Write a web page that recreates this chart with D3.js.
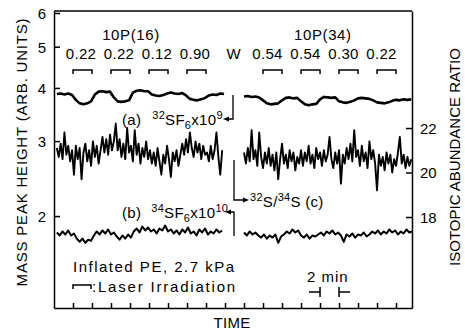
<!DOCTYPE html>
<html lang="en">
<head>
<meta charset="UTF-8">
<title>Mass peak height vs time</title>
<script src="https://d3js.org/d3.v7.min.js"></script>
<style>
  body { margin: 0; background: #fff; }
  svg { display: block; font-family: "Liberation Sans", Arial, sans-serif; }
  .axis path, .axis line { stroke: #000; stroke-width: 1.5; }
  .axis text { font-size: 15px; fill: #000; font-family: "Liberation Sans", Arial, sans-serif; }
  .trace { fill: none; stroke: #000; stroke-linejoin: round; }
  .lbl { font-size: 15px; fill: #000; }
</style>
</head>
<body>
<svg id="chart"></svg>
<script>
// each segment is sampled at a fixed step (minutes) from its start time
const leftStart = 0.3;
const rightStart = 20.0;

// (a) 32SF6 x 10^9, step 0.4 min
const sf32Left = [3.87, 3.88, 3.86, 3.88, 3.85, 3.75, 3.68, 3.66, 3.68, 3.72,
  3.86, 3.92, 3.93, 3.91, 3.92, 3.80, 3.72, 3.71, 3.72, 3.74,
  3.90, 3.94, 3.95, 3.93, 3.93, 3.86, 3.84, 3.83, 3.85, 3.88,
  3.90, 3.88, 3.87, 3.89, 3.84, 3.77, 3.75, 3.74, 3.76, 3.79,
  3.84, 3.86, 3.85, 3.88, 3.87];
const sf32Right = [3.82, 3.83, 3.81, 3.82, 3.80, 3.74, 3.68, 3.66, 3.67, 3.68,
  3.74, 3.79, 3.80, 3.78, 3.79, 3.72, 3.66, 3.64, 3.66, 3.67,
  3.76, 3.81, 3.80, 3.79, 3.80, 3.72, 3.70, 3.69, 3.71, 3.74,
  3.78, 3.79, 3.78, 3.77, 3.74, 3.70, 3.69, 3.68, 3.70, 3.73,
  3.75, 3.74, 3.76, 3.75, 3.76];

// (c) 32S/34S ratio, step 0.2 min
const ratioLeft = [21.1, 20.7, 21.3, 20.6, 21.8, 20.8, 21.2, 20.5, 21.0, 19.9,
  21.2, 20.6, 21.1, 19.7, 20.9, 21.3, 20.5, 21.0, 20.3, 21.4,
  20.7, 21.2, 20.4, 21.0, 21.6, 20.9, 21.5, 20.8, 21.7, 21.0,
  21.4, 22.2, 21.0, 21.5, 20.7, 21.3, 20.6, 22.0, 20.9, 21.2,
  20.5, 21.9, 20.8, 21.3, 20.4, 21.1, 20.7, 21.4, 20.6, 21.0,
  20.4, 20.9, 20.3, 21.1, 20.5, 19.9, 20.8, 20.4, 21.2, 20.6,
  19.8, 20.9, 20.5, 21.0, 20.3, 20.8, 21.3, 20.8, 21.5, 20.9,
  21.8, 21.1, 20.7, 21.4, 20.9, 21.3, 20.6, 21.2, 20.8, 20.9,
  20.5, 21.2, 20.6, 21.0, 21.8, 20.7, 19.9, 21.0];
const ratioRight = [20.9, 20.4, 21.1, 20.5, 21.9, 20.6, 21.0, 20.3, 21.8, 20.7,
  20.2, 20.9, 20.4, 21.1, 20.3, 20.8, 20.1, 20.9, 19.7, 20.6,
  21.3, 20.4, 20.8, 20.2, 21.0, 20.5, 20.9, 20.1, 20.7, 20.4,
  21.0, 20.3, 20.9, 20.5, 21.2, 20.4, 20.8, 20.2, 21.1, 20.6,
  20.9, 20.3, 21.0, 20.5, 20.8, 21.6, 20.6, 20.2, 20.9, 20.4,
  21.0, 19.5, 20.8, 20.4, 21.1, 20.6, 21.3, 20.5, 21.9, 20.7,
  21.0, 20.3, 21.2, 20.5, 20.9, 20.2, 21.4, 20.6, 21.0, 20.4,
  19.2, 20.8, 20.3, 20.7, 20.1, 20.9, 20.4, 20.8, 20.0, 20.6,
  20.3, 20.9, 21.6, 20.4, 20.8, 20.2, 20.7, 20.3, 20.6];

// (b) 34SF6 x 10^10, step 0.3 min
const sf34Left = [1.83, 1.80, 1.84, 1.81, 1.85, 1.80, 1.82, 1.77, 1.74, 1.77,
  1.73, 1.76, 1.75, 1.80, 1.84, 1.81, 1.85, 1.82, 1.86, 1.81,
  1.83, 1.79, 1.76, 1.80, 1.77, 1.81, 1.78, 1.84, 1.87, 1.83,
  1.89, 1.85, 1.88, 1.84, 1.86, 1.82, 1.87, 1.85, 1.90, 1.84,
  1.86, 1.82, 1.85, 1.81, 1.86, 1.83, 1.88, 1.82, 1.84, 1.80,
  1.86, 1.83, 1.87, 1.81, 1.84, 1.82, 1.86, 1.83, 1.85];
const sf34Right = [1.83, 1.80, 1.84, 1.81, 1.83, 1.80, 1.78, 1.81, 1.77, 1.80,
  1.78, 1.81, 1.73, 1.79, 1.81, 1.84, 1.82, 1.86, 1.83, 1.85,
  1.80, 1.78, 1.81, 1.77, 1.80, 1.79, 1.81, 1.83, 1.80, 1.84,
  1.82, 1.85, 1.81, 1.83, 1.80, 1.74, 1.81, 1.79, 1.82, 1.78,
  1.81, 1.80, 1.83, 1.79, 1.81, 1.84, 1.82, 1.85, 1.81, 1.84,
  1.82, 1.86, 1.83, 1.85, 1.81, 1.84, 1.82, 1.86, 1.83, 1.84];

// laser irradiation periods (min) and fluences
const laserLeft = [[2, 4], [6, 8], [10, 12], [14, 16]];
const powerLeft = ["0.22", "0.22", "0.12", "0.90"];
const laserRight = [[22, 24], [26, 28], [30, 32], [34, 36]];
const powerRight = ["0.54", "0.54", "0.30", "0.22"];

const leftTicks = [2, 3, 4, 5, 6];
const rightTicks = [18, 20, 22];
const timeTicks = [2, 4, 6, 8, 10, 12, 14, 16, 18, 20, 22, 24, 26, 28, 30, 32, 34, 36];

const width = 465, height = 333;
const svg = d3.select("#chart").attr("width", width).attr("height", height);

const x = d3.scaleLinear().domain([0, 37.68]).range([54, 412]);
const yL = d3.scaleLog().domain([1.216, 6.065]).range([308, 11]);
const yR = d3.scaleLinear().domain([13.91, 27.26]).range([308, 11]);

// frame and axes
svg.append("line").attr("x1", 54).attr("x2", 412).attr("y1", 11).attr("y2", 11)
  .attr("stroke", "#000").attr("stroke-width", 1.5);

svg.append("g").attr("class", "axis")
  .attr("transform", "translate(0,308)")
  .call(d3.axisBottom(x).tickValues(timeTicks).tickSizeInner(-5).tickSizeOuter(0).tickFormat(""));

svg.append("g").attr("class", "axis")
  .attr("transform", "translate(54,0)")
  .call(d3.axisLeft(yL).tickValues(leftTicks).tickFormat(d3.format("d"))
    .tickSizeInner(-6).tickSizeOuter(0).tickPadding(8));

svg.append("g").attr("class", "axis")
  .attr("transform", "translate(412,0)")
  .call(d3.axisRight(yR).tickValues(rightTicks).tickFormat(d3.format("d"))
    .tickSizeInner(-6).tickSizeOuter(0).tickPadding(8));

svg.selectAll(".axis .tick text").attr("dy", "0.36em");

// traces
function series(vals, t0, step) {
  return vals.map((v, i) => [t0 + i * step, v]);
}
const lineL = d3.line().x(d => x(d[0])).y(d => yL(d[1]));
const lineR = d3.line().x(d => x(d[0])).y(d => yR(d[1]));

[[sf32Left, leftStart], [sf32Right, rightStart]].forEach(([v, t0]) => {
  svg.append("path").attr("class", "trace").attr("stroke-width", 2.6)
    .attr("d", lineL(series(v, t0, 0.4)));
});
[[ratioLeft, leftStart], [ratioRight, rightStart]].forEach(([v, t0]) => {
  svg.append("path").attr("class", "trace").attr("stroke-width", 1.9)
    .attr("d", lineR(series(v, t0, 0.2)));
});
[[sf34Left, leftStart], [sf34Right, rightStart]].forEach(([v, t0]) => {
  svg.append("path").attr("class", "trace").attr("stroke-width", 2)
    .attr("d", lineL(series(v, t0, 0.3)));
});

// laser brackets and fluence labels
function bracket(a, b, top) {
  return `M${x(a)},${top + 4}V${top}H${x(b)}V${top + 4}`;
}
[[laserLeft, powerLeft, -1.5], [laserRight, powerRight, -5]].forEach(([per, lab, off]) => {
  per.forEach((p, i) => {
    svg.append("path").attr("d", bracket(p[0], p[1], 70))
      .attr("fill", "none").attr("stroke", "#000").attr("stroke-width", 1.5);
    svg.append("text").attr("class", "lbl").attr("text-anchor", "middle")
      .attr("x", x((p[0] + p[1]) / 2) + off).attr("y", 59)
      .style("letter-spacing", "0.3px").text(lab[i]);
  });
});

svg.append("text").attr("class", "lbl").attr("text-anchor", "middle")
  .attr("x", x(8.1)).attr("y", 40).style("letter-spacing", "0.6px").text("10P(16)");
svg.append("text").attr("class", "lbl").attr("text-anchor", "middle")
  .attr("x", x(28.3)).attr("y", 40).style("letter-spacing", "0.6px").text("10P(34)");
svg.append("text").attr("class", "lbl").attr("text-anchor", "middle")
  .attr("x", x(18.9)).attr("y", 59).text("W");

// labels with super/subscripts
function richText(x0, y0, parts) {
  const t = svg.append("text").attr("class", "lbl").attr("x", x0).attr("y", y0)
    .style("letter-spacing", "0.3px");
  let shift = 0;
  parts.forEach(([str, sh, size, dx]) => {
    t.append("tspan").attr("dy", sh - shift).attr("dx", dx || 0)
      .style("font-size", size + "px").text(str);
    shift = sh;
  });
}
richText(122, 125, [["(a)", 0, 15], ["32", -6, 11, 11], ["SF", 0, 15], ["6", 4, 11], ["x10", 0, 15], ["9", -6, 11]]);
richText(122, 218, [["(b)", 0, 15], ["34", -6, 11, 10], ["SF", 0, 15], ["6", 4, 11], ["x10", 0, 15], ["10", -6, 11]]);
richText(250, 207, [["32", -6, 11], ["S/", 0, 15], ["34", -6, 11], ["S (c)", 0, 15]]);

// leader arrows
function arrowHead(px, py, dir) {
  return `M${px},${py}L${px - dir * 6},${py - 2.6}L${px - dir * 6},${py + 2.6}Z`;
}
const lead = svg.append("g").attr("fill", "none").attr("stroke", "#000").attr("stroke-width", 1.3);
lead.append("path").attr("d", "M228,119H233V95");
lead.append("path").attr("d", "M234,160V200H244");
lead.append("path").attr("d", "M230,212H234V236");
svg.append("path").attr("d", arrowHead(223, 119, -1));
svg.append("path").attr("d", arrowHead(249, 200, 1));
svg.append("path").attr("d", arrowHead(225, 212, -1));

// notes
svg.append("text").attr("class", "lbl").attr("x", 73).attr("y", 272)
  .style("letter-spacing", "1.5px").text("Inflated PE, 2.7 kPa");
svg.append("path").attr("d", `M73,289V285H91V289`)
  .attr("fill", "none").attr("stroke", "#000").attr("stroke-width", 1.5);
svg.append("text").attr("class", "lbl").attr("x", 92).attr("y", 292)
  .style("letter-spacing", "1.8px").text(":Laser Irradiation");

svg.append("text").attr("class", "lbl").attr("x", 307).attr("y", 282)
  .style("letter-spacing", "1px").text("2 min");
svg.append("path").attr("d", `M${x(28) - 11},292H${x(28)}M${x(28)},287V297M${x(30)},287V297M${x(30)},292H${x(30) + 11}`)
  .attr("fill", "none").attr("stroke", "#000").attr("stroke-width", 1.5);

// axis titles
svg.append("text").attr("class", "lbl").attr("text-anchor", "middle")
  .attr("transform", "translate(27,152) rotate(-90)")
  .style("letter-spacing", "0.8px").text("MASS PEAK HEIGHT (ARB. UNITS)");
svg.append("text").attr("class", "lbl").attr("text-anchor", "middle")
  .attr("transform", "translate(460,157) rotate(-90)")
  .text("ISOTOPIC ABUNDANCE RATIO");
svg.append("text").attr("class", "lbl").attr("text-anchor", "middle")
  .attr("x", 232).attr("y", 328).style("letter-spacing", "0.3px").text("TIME");
</script>
</body>
</html>
